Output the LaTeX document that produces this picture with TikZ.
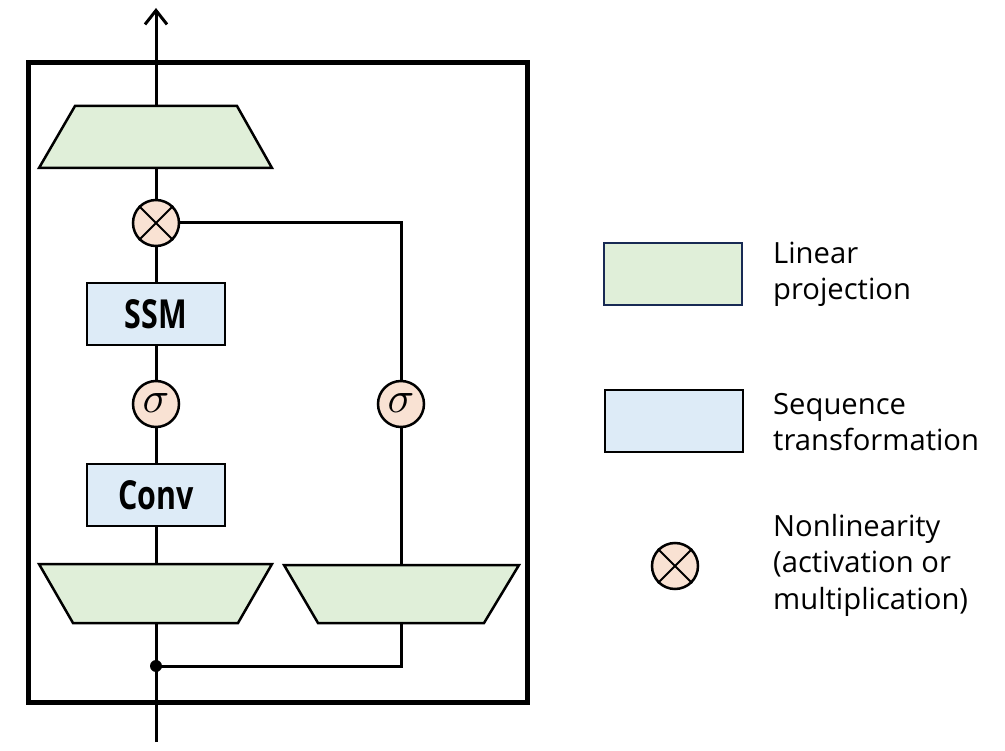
\documentclass[tikz,border=0pt]{standalone}
\usepackage{fontspec}
\usepackage{graphicx}
\setmainfont{Open Sans}
\usetikzlibrary{arrows.meta}
\definecolor{lingreen}{RGB}{224,239,217}
\definecolor{seqblue}{RGB}{221,235,247}
\definecolor{nlpeach}{RGB}{249,226,211}
\definecolor{navy}{RGB}{24,42,84}
\tikzset{
  conn/.style={line width=3pt},
  projshape/.style={fill=lingreen, draw=black, line width=2.5pt, line join=miter},
  seqbox/.style={rectangle, draw=black, fill=seqblue, line width=2.5pt, minimum width=138pt, minimum height=62pt, inner sep=0pt,
    font=\fontsize{40}{40}\selectfont\bfseries},
  nlcirc/.style={circle, draw=black, fill=nlpeach, line width=2.5pt, minimum size=46pt, inner sep=0pt},
  legtext/.style={align=left, font=\fontsize{29.2}{36.5}\selectfont, inner sep=0pt},
}
\newcommand{\cond}[1]{\scalebox{0.76}[1]{#1}}
\newcommand{\bigsig}{\raisebox{1pt}{\scalebox{4.4}{$\sigma$}}}
\begin{document}
\begin{tikzpicture}[x=1pt,y=-1pt]
\useasboundingbox (0,0) rectangle (1005,751);
% outer box
\draw[line width=5pt] (28,63) rectangle (527,702);

% trapezoids
\draw[projshape] (75,106) -- (237,106) -- (272,168) -- (39,168) -- cycle;
\coordinate (outT) at (156,106);
\coordinate (outB) at (156,168);
\draw[projshape] (39,564) -- (272,564) -- (238,623) -- (73,623) -- cycle;
\coordinate (inLT) at (156,564);
\coordinate (inLB) at (156,623);
\draw[projshape] (284,565) -- (519,565) -- (484,623) -- (318,623) -- cycle;
\coordinate (inRT) at (401,565);
\coordinate (inRB) at (401,623);

% nodes
\node[nlcirc] (mul) at (156,223) {};
\draw[line width=2pt] (mul.north west) -- (mul.south east) (mul.north east) -- (mul.south west);
\node[seqbox] (ssm) at (156,314) {\cond{SSM}};
\node[nlcirc] (sigL) at (156,404) {\bigsig};
\node[nlcirc] (sigR) at (401,404) {\bigsig};
\node[seqbox] (conv) at (156,495) {\cond{Conv}};

\coordinate (top) at (156,8);
\coordinate (bot) at (156,742);
\coordinate (junc) at (156,666);
\coordinate (corner) at (401,223);
\coordinate (cornerB) at (401,666);

% connectors
\draw[conn, -{Straight Barb[length=14pt,width=22pt,line width=3pt]}] (outT) -- (top);
\draw[conn] (outB) -- (mul);
\draw[conn] (mul) -- (ssm);
\draw[conn] (ssm) -- (sigL);
\draw[conn] (sigL) -- (conv);
\draw[conn] (conv) -- (inLT);
\draw[conn, line join=miter] (mul) -- (corner) -- (sigR);
\draw[conn] (sigR) -- (inRT);
\draw[conn] (bot) -- (inLB);
\draw[conn, line join=miter] (junc) -- (cornerB) -- (inRB);
\fill (junc) circle (6pt);

% legend
\node[rectangle, draw=navy, fill=lingreen, line width=2.5pt, minimum width=138pt, minimum height=62pt, inner sep=0pt] (legLin) at (673,274) {};
\node[rectangle, draw=black, fill=seqblue, line width=2.5pt, minimum width=138pt, minimum height=62pt, inner sep=0pt] (legSeq) at (674,421) {};
\node[nlcirc] (legNl) at (675,566) {};
\draw[line width=2pt] (legNl.north west) -- (legNl.south east) (legNl.north east) -- (legNl.south west);
\node[legtext, anchor=base west] (tLin) at (773,300) {Linear\\projection};
\node[legtext, anchor=base west] (tSeq) at (773,451) {Sequence\\transformation};
\node[legtext, anchor=base west] (tNl) at (773,609) {Nonlinearity\\(activation or\\multiplication)};
\end{tikzpicture}
\end{document}
